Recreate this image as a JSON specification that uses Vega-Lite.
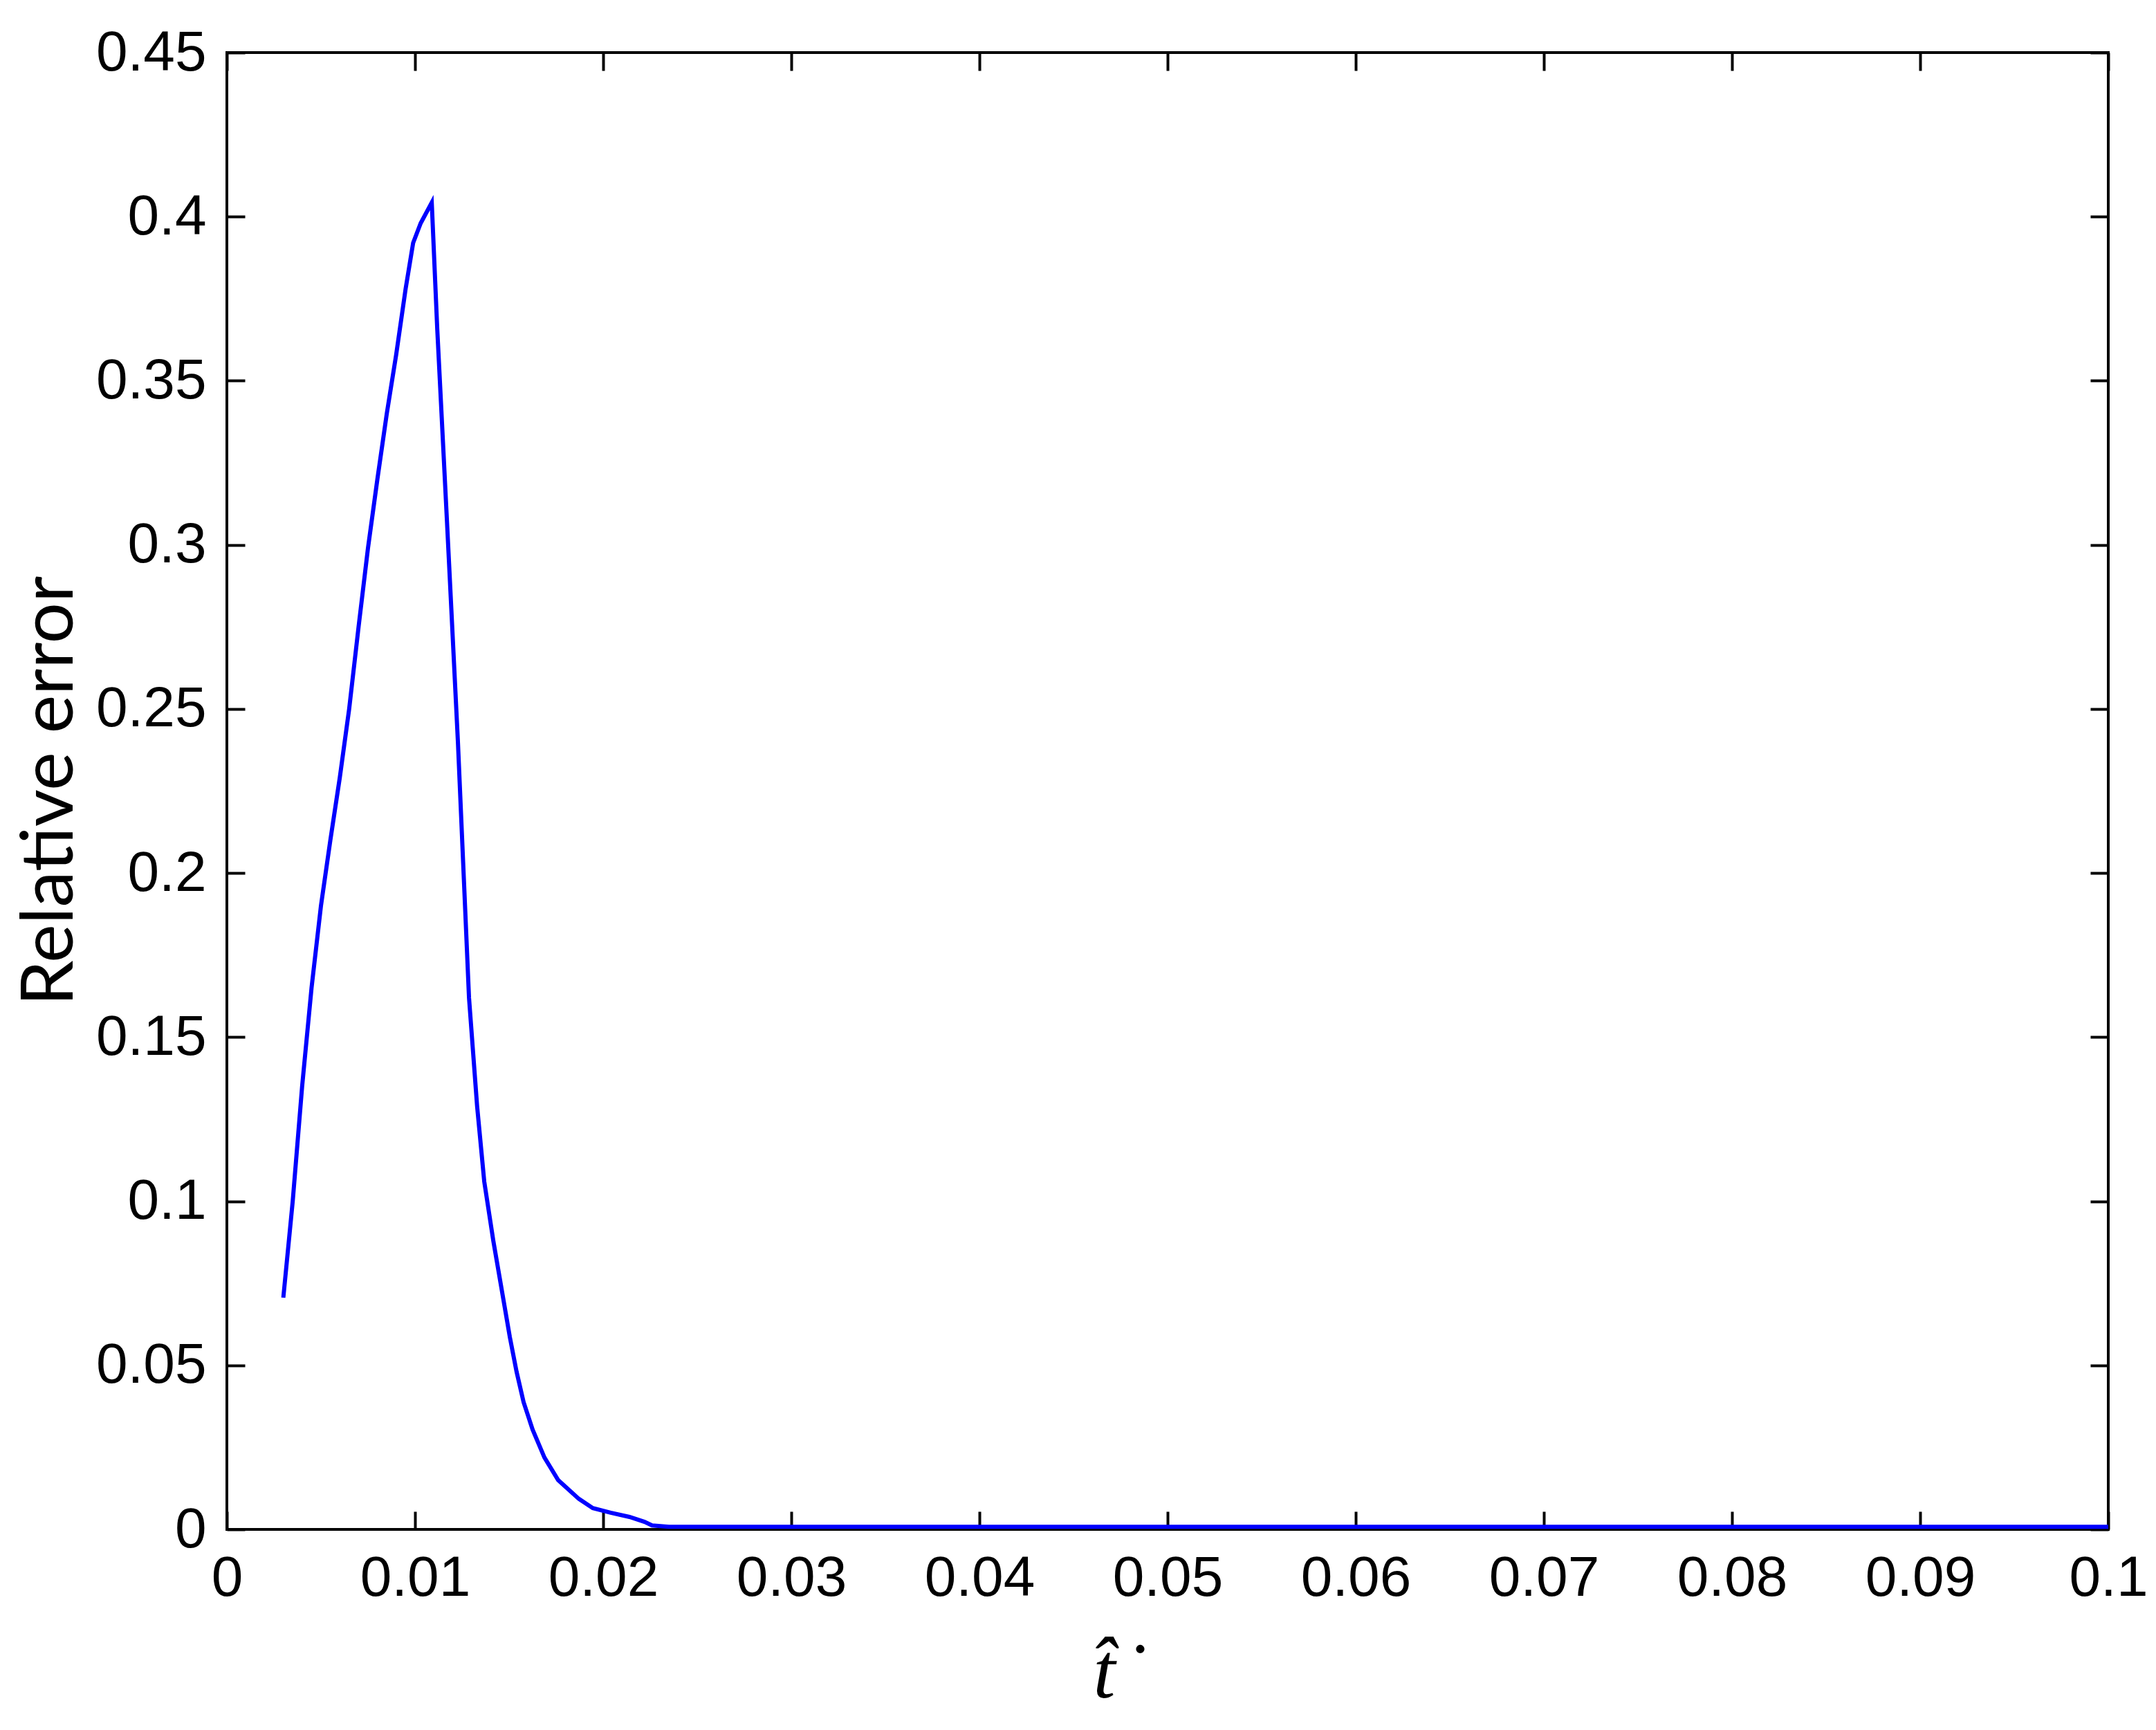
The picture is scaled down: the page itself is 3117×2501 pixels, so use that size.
{
  "$schema": "https://vega.github.io/schema/vega-lite/v6.json",
  "width": 2720,
  "height": 2135,
  "autosize": {"type": "none"},
  "padding": {"left": 328, "top": 76, "right": 69, "bottom": 290},
  "background": "white",
  "config": {
    "view": {"stroke": "black", "strokeWidth": 4},
    "axis": {
      "grid": false,
      "domain": false,
      "tickColor": "black",
      "tickWidth": 4,
      "tickSize": -26,
      "labelFont": "Liberation Sans",
      "labelFontSize": 82,
      "labelColor": "black",
      "labelPadding": 56,
      "labelFlush": false,
      "labelOverlap": false
    }
  },
  "data": {
    "values": [
      {"t": 0.00300, "err": 0.0706},
      {"t": 0.00350, "err": 0.1000},
      {"t": 0.00400, "err": 0.1350},
      {"t": 0.00450, "err": 0.1650},
      {"t": 0.00500, "err": 0.1900},
      {"t": 0.00550, "err": 0.2100},
      {"t": 0.00600, "err": 0.2290},
      {"t": 0.00650, "err": 0.2500},
      {"t": 0.00700, "err": 0.2750},
      {"t": 0.00750, "err": 0.2990},
      {"t": 0.00800, "err": 0.3200},
      {"t": 0.00850, "err": 0.3400},
      {"t": 0.00900, "err": 0.3580},
      {"t": 0.00950, "err": 0.3780},
      {"t": 0.00990, "err": 0.3920},
      {"t": 0.01030, "err": 0.3980},
      {"t": 0.01089, "err": 0.4043},
      {"t": 0.01118, "err": 0.3660},
      {"t": 0.01170, "err": 0.3070},
      {"t": 0.01228, "err": 0.2400},
      {"t": 0.01287, "err": 0.1620},
      {"t": 0.01330, "err": 0.1290},
      {"t": 0.01368, "err": 0.1060},
      {"t": 0.01416, "err": 0.0880},
      {"t": 0.01470, "err": 0.0700},
      {"t": 0.01504, "err": 0.0586},
      {"t": 0.01540, "err": 0.0480},
      {"t": 0.01577, "err": 0.0388},
      {"t": 0.01625, "err": 0.0304},
      {"t": 0.01688, "err": 0.0219},
      {"t": 0.01761, "err": 0.0150},
      {"t": 0.01871, "err": 0.0093},
      {"t": 0.01945, "err": 0.0065},
      {"t": 0.02040, "err": 0.0051},
      {"t": 0.02140, "err": 0.0038},
      {"t": 0.02220, "err": 0.0023},
      {"t": 0.02260, "err": 0.0012},
      {"t": 0.02350, "err": 0.0008},
      {"t": 0.03000, "err": 0.0008},
      {"t": 0.04000, "err": 0.0008},
      {"t": 0.05000, "err": 0.0008},
      {"t": 0.06000, "err": 0.0008},
      {"t": 0.07000, "err": 0.0008},
      {"t": 0.08000, "err": 0.0008},
      {"t": 0.09000, "err": 0.0008},
      {"t": 0.10000, "err": 0.0008}
    ]
  },
  "layer": [
    {
      "mark": {"type": "line", "color": "#0000FF", "strokeWidth": 6, "clip": true},
      "encoding": {
        "x": {
          "field": "t", "type": "quantitative",
          "scale": {"domain": [0, 0.1], "nice": false, "zero": false},
          "axis": {
            "orient": "bottom",
            "values": [0, 0.01, 0.02, 0.03, 0.04, 0.05, 0.06, 0.07, 0.08, 0.09, 0.1],
            "format": "~g",
            "title": "t̂\u200a˙",
            "titleFont": "Liberation Serif",
            "titleFontStyle": "italic",
            "titleFontWeight": "normal",
            "titleFontSize": 115,
            "titleColor": "black",
            "titleAlign": "left",
            "titleBaseline": "alphabetic",
            "titleX": 1252,
            "titleY": 242
          }
        },
        "y": {
          "field": "err", "type": "quantitative",
          "scale": {"domain": [0, 0.45], "nice": false, "zero": false},
          "axis": {
            "orient": "left",
            "values": [0, 0.05, 0.1, 0.15, 0.2, 0.25, 0.3, 0.35, 0.4, 0.45],
            "format": "~g",
            "title": "Relative error",
            "titleFont": "Lato",
            "titleFontWeight": "normal",
            "titleFontSize": 105,
            "titleColor": "black",
            "titleAngle": -90,
            "titleAlign": "center",
            "titleBaseline": "alphabetic",
            "titleX": -224,
            "titleY": 1067
          }
        }
      }
    },
    {
      "mark": {"type": "line", "opacity": 0},
      "encoding": {
        "x": {
          "field": "t", "type": "quantitative",
          "scale": {"domain": [0, 0.1], "nice": false, "zero": false},
          "axis": {
            "orient": "top",
            "values": [0, 0.01, 0.02, 0.03, 0.04, 0.05, 0.06, 0.07, 0.08, 0.09, 0.1],
            "labels": false,
            "title": null
          }
        },
        "y": {
          "field": "err", "type": "quantitative",
          "scale": {"domain": [0, 0.45], "nice": false, "zero": false},
          "axis": {
            "orient": "right",
            "values": [0, 0.05, 0.1, 0.15, 0.2, 0.25, 0.3, 0.35, 0.4, 0.45],
            "labels": false,
            "title": null
          }
        }
      }
    }
  ],
  "resolve": {"axis": {"x": "independent", "y": "independent"}}
}
